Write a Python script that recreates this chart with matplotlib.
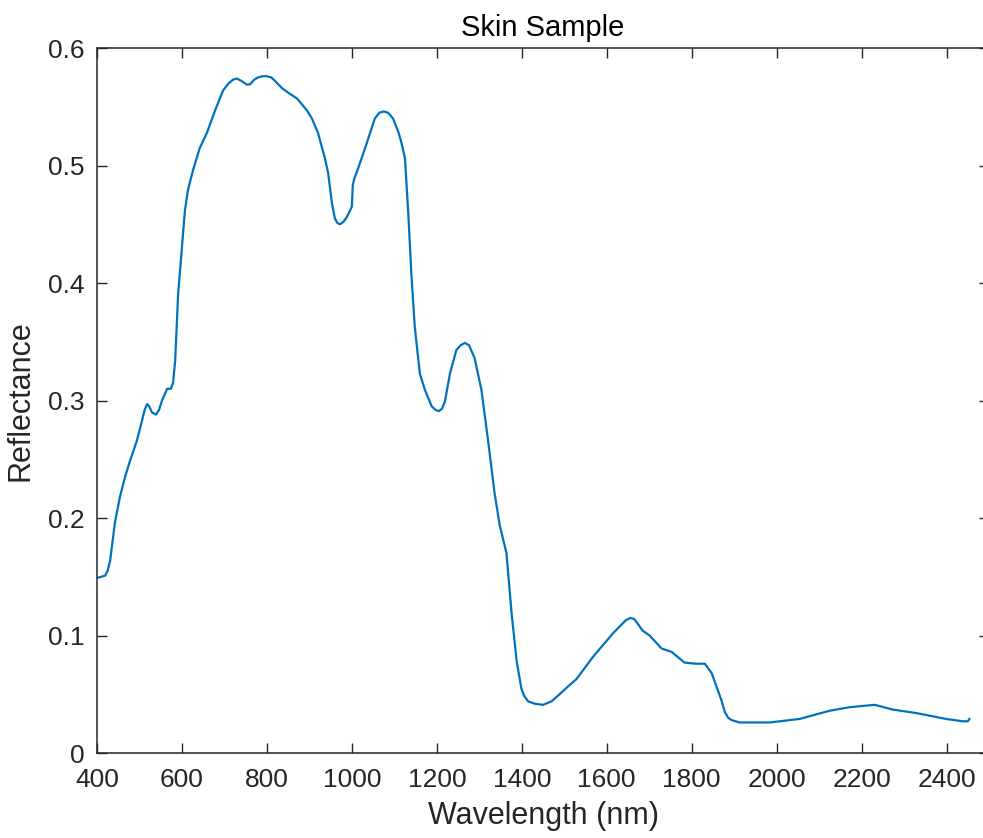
import numpy as np
import matplotlib
matplotlib.use("Agg")
import matplotlib.pyplot as plt

# spectrum (nm, reflectance)
wavelength = [400, 410, 419, 425, 431, 442, 454, 466, 478, 494, 506, 512, 518,
              523, 529, 539, 546, 553, 565, 574, 579, 584, 591, 600, 607, 614,
              626, 642, 659, 678, 697, 710, 720, 729, 740, 752, 760, 770, 779,
              790, 800, 810, 819, 835, 850, 871, 894, 906, 920, 936, 944, 953,
              960, 966, 972, 980, 988, 1000, 1002, 1005, 1019, 1035, 1054,
              1065, 1075, 1085, 1097, 1110, 1117, 1125, 1133, 1140, 1148, 1160,
              1172, 1188, 1197, 1205, 1212, 1219, 1231, 1246, 1256, 1266, 1276,
              1289, 1305, 1321, 1336, 1348, 1364, 1376, 1388, 1399, 1405, 1415,
              1430, 1450, 1470, 1489, 1510, 1529, 1568, 1615, 1645, 1656, 1665,
              1685, 1701, 1729, 1753, 1783, 1810, 1831, 1847, 1861, 1870, 1878,
              1886, 1894, 1913, 1950, 1984, 2054, 2125, 2172, 2200, 2231, 2242,
              2273, 2329, 2399, 2438, 2450, 2454]
reflectance = [0.149, 0.150, 0.151, 0.155, 0.164, 0.196, 0.218, 0.235, 0.249,
               0.266, 0.283, 0.292, 0.297, 0.295, 0.290, 0.288, 0.292, 0.300,
               0.310, 0.310, 0.315, 0.334, 0.391, 0.431, 0.462, 0.479, 0.496,
               0.515, 0.528, 0.547, 0.564, 0.570, 0.573, 0.574, 0.572, 0.569,
               0.569, 0.573, 0.575, 0.576, 0.576, 0.575, 0.572, 0.566, 0.562,
               0.557, 0.547, 0.540, 0.528, 0.507, 0.494, 0.468, 0.455, 0.451,
               0.450, 0.452, 0.456, 0.465, 0.483, 0.488, 0.502, 0.519, 0.540,
               0.545, 0.546, 0.545, 0.540, 0.528, 0.519, 0.506, 0.458, 0.408,
               0.363, 0.323, 0.309, 0.295, 0.292, 0.291, 0.293, 0.299, 0.323,
               0.343, 0.347, 0.349, 0.347, 0.336, 0.309, 0.265, 0.221, 0.194,
               0.170, 0.119, 0.078, 0.055, 0.049, 0.044, 0.042, 0.041, 0.044,
               0.050, 0.057, 0.063, 0.082, 0.102, 0.113, 0.115, 0.114, 0.104,
               0.100, 0.089, 0.086, 0.077, 0.076, 0.076, 0.068, 0.054, 0.045,
               0.035, 0.030, 0.028, 0.026, 0.026, 0.026, 0.029, 0.036, 0.039,
               0.040, 0.041, 0.040, 0.037, 0.034, 0.029, 0.027, 0.027, 0.029]

x_ticks = [400, 600, 800, 1000, 1200, 1400, 1600, 1800, 2000, 2200, 2400]
y_ticks = [0, 0.1, 0.2, 0.3, 0.4, 0.5, 0.6]
y_tick_labels = ['0', '0.1', '0.2', '0.3', '0.4', '0.5', '0.6']

plt.rcParams['font.family'] = ['Liberation Sans', 'DejaVu Sans']
axis_color = '#262626'

fig = plt.figure(figsize=(9.83, 8.38), dpi=100)
# right edge of the box sits just outside the picture, as in the reference
ax = fig.add_axes([0.0987, 0.1014, 0.9074, 0.8413])

ax.plot(wavelength, reflectance, color='#0072BD', lw=1.6)

ax.set_xlim(400, 2500)
ax.set_ylim(0, 0.6)
ax.set_xticks(x_ticks)
ax.set_yticks(y_ticks)
ax.set_yticklabels(y_tick_labels)

ax.tick_params(direction='in', length=7, width=1.0, colors=axis_color,
               labelsize=19, top=True, right=True)
ax.tick_params(axis='x', pad=11)
ax.tick_params(axis='y', pad=9)
for s in ax.spines.values():
    s.set_color(axis_color)
    s.set_linewidth(1.1)

ax.set_xlabel('Wavelength (nm)', fontsize=22, color=axis_color, labelpad=6)
ax.set_ylabel('Reflectance', fontsize=22, color=axis_color, labelpad=9)
ax.set_title('Skin Sample', fontsize=21, color='black', pad=9)

fig.savefig('out.png', dpi=100)
